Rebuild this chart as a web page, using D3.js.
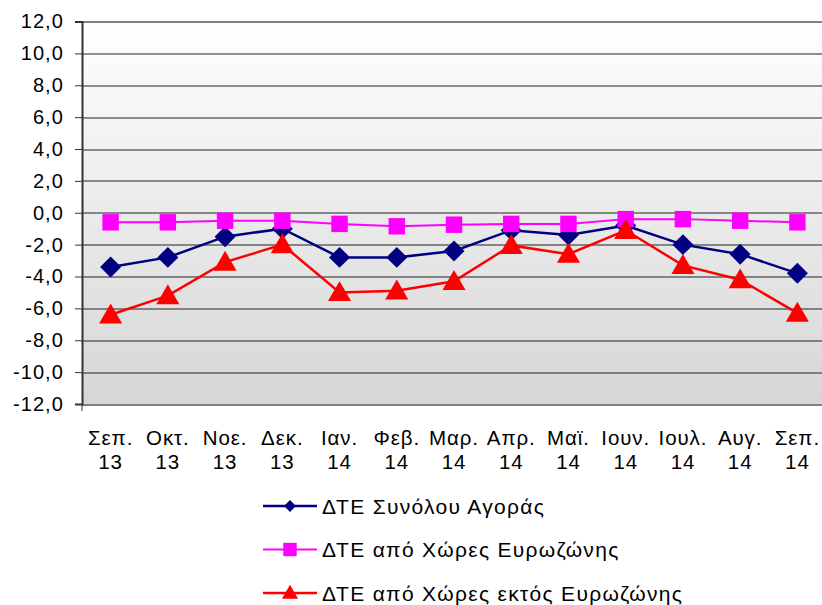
<!DOCTYPE html>
<html>
<head>
<meta charset="utf-8">
<script src="https://cdn.jsdelivr.net/npm/d3@7"></script>
<style>
  body { margin: 0; background: #fff; }
  svg { display: block; font-family: "Liberation Sans", Arial, sans-serif; }
</style>
</head>
<body>
<div class="chart"></div>
<script>
// month labels (two lines each)
var months = ["Σεπ.", "Οκτ.", "Νοε.", "Δεκ.", "Ιαν.", "Φεβ.", "Μαρ.", "Απρ.", "Μαϊ.", "Ιουν.", "Ιουλ.", "Αυγ.", "Σεπ."];
var years = ["13", "13", "13", "13", "14", "14", "14", "14", "14", "14", "14", "14", "14"];

// series values
var totalMarket = [-3.4, -2.8, -1.5, -1.0, -2.8, -2.8, -2.4, -1.1, -1.4, -0.8, -2.0, -2.6, -3.8];
var euroArea = [-0.6, -0.6, -0.5, -0.5, -0.7, -0.85, -0.75, -0.7, -0.7, -0.4, -0.4, -0.5, -0.6];
var nonEuroArea = [-6.4, -5.2, -3.1, -2.0, -5.0, -4.9, -4.3, -2.05, -2.6, -1.1, -3.3, -4.2, -6.3];

var seriesNames = ["ΔΤΕ Συνόλου Αγοράς", "ΔΤΕ από Χώρες Ευρωζώνης", "ΔΤΕ από Χώρες εκτός Ευρωζώνης"];
var yTicks = [12, 10, 8, 6, 4, 2, 0, -2, -4, -6, -8, -10, -12];

// rotated square for the Excel-like diamond marker
var diamond = {
  draw: function(context, size) {
    var r = Math.sqrt(size / 2);
    context.moveTo(0, -r);
    context.lineTo(r, 0);
    context.lineTo(0, r);
    context.lineTo(-r, 0);
    context.closePath();
  }
};

var series = [
  { name: seriesNames[0], values: totalMarket, color: "#000080", symbol: diamond, size: 220, legendSize: 70, width: 2.5, dy: 0 },
  { name: seriesNames[1], values: euroArea, color: "#ff00ff", symbol: d3.symbolSquare, size: 270, legendSize: 180, width: 2, dy: 0 },
  { name: seriesNames[2], values: nonEuroArea, color: "#ff0000", symbol: d3.symbolTriangle, size: 230, legendSize: 113, width: 2.5, dy: 2 }
];

var svgWidth = 822, svgHeight = 605;
var margin = { top: 21.5, left: 82, right: -4, bottom: 201 };
var width = svgWidth - margin.left - margin.right;
var height = svgHeight - margin.top - margin.bottom;

var svg = d3.select(".chart").append("svg")
  .attr("width", svgWidth)
  .attr("height", svgHeight);

var defs = svg.append("defs");
var grad = defs.append("linearGradient")
  .attr("id", "bg")
  .attr("x1", 0).attr("y1", 0).attr("x2", 0).attr("y2", 1);
grad.append("stop").attr("offset", "0%").attr("stop-color", "#ffffff");
grad.append("stop").attr("offset", "100%").attr("stop-color", "#d6d6d6");

var chartGroup = svg.append("g")
  .attr("transform", `translate(${margin.left}, ${margin.top})`);

// scales
var xScale = d3.scaleBand()
  .domain(d3.range(months.length))
  .range([0, width]);

var yScale = d3.scaleLinear()
  .domain([-12, 12])
  .range([height, 0]);

// plot background
chartGroup.append("rect")
  .attr("width", width)
  .attr("height", height)
  .attr("fill", "url(#bg)");

// gridlines
chartGroup.selectAll(".grid")
  .data(yTicks)
  .enter()
  .append("line")
  .attr("x1", 0)
  .attr("x2", width)
  .attr("y1", d => Math.round(yScale(d)) + 0.5)
  .attr("y2", d => Math.round(yScale(d)) + 0.5)
  .attr("stroke", d => (d == 12 || d == -12) ? "#808080" : "#222")
  .attr("stroke-width", d => (d == 12 || d == -12) ? 2 : 1);

// y axis
var yAxis = d3.axisLeft(yScale)
  .tickValues(yTicks)
  .tickSize(7)
  .tickFormat(d => d3.format(".1f")(d).replace(".", ",").replace("−", "-"));

var yG = chartGroup.append("g").call(yAxis);
yG.attr("font-family", null).attr("font-size", null);
yG.select(".domain").attr("stroke", "#333").attr("stroke-width", 2);
yG.selectAll(".tick line").attr("stroke", "#333");
yG.selectAll(".tick text")
  .attr("font-size", 20)
  .attr("letter-spacing", 1.1)
  .attr("fill", "#000")
  .attr("x", -18);

// small tick below axis bottom
chartGroup.append("line")
  .attr("x1", 0).attr("x2", 0)
  .attr("y1", height).attr("y2", height + 7)
  .attr("stroke", "#333");

// x labels
var xLabels = chartGroup.selectAll(".xlab")
  .data(months)
  .enter()
  .append("text")
  .attr("text-anchor", "middle")
  .attr("font-size", 20.5)
  .attr("letter-spacing", 0.9)
  .attr("fill", "#000")
  .attr("transform", (d, i) => `translate(${xScale(i) + xScale.bandwidth() / 2}, ${height + 41})`);
xLabels.append("tspan").attr("x", 0).attr("y", 0).text(d => d);
xLabels.append("tspan").attr("x", 0).attr("y", 24).text((d, i) => years[i]);

// lines and markers
var line = d3.line()
  .x((d, i) => xScale(i) + xScale.bandwidth() / 2)
  .y(d => yScale(d));

series.forEach(function(s) {
  chartGroup.append("path")
    .datum(s.values)
    .attr("d", line)
    .attr("fill", "none")
    .attr("stroke", s.color)
    .attr("stroke-width", s.width);

  chartGroup.selectAll(null)
    .data(s.values)
    .enter()
    .append("path")
    .attr("d", d3.symbol().type(s.symbol).size(s.size))
    .attr("transform", (d, i) => `translate(${xScale(i) + xScale.bandwidth() / 2}, ${yScale(d) + s.dy})`)
    .attr("fill", s.color);
});

// legend
var legend = svg.selectAll(".legend")
  .data(series)
  .enter()
  .append("g")
  .attr("transform", (d, i) => `translate(263, ${506 + i * 43.5})`);

legend.append("line")
  .attr("x1", 0).attr("x2", 54)
  .attr("y1", 0).attr("y2", 0)
  .attr("stroke", d => d.color)
  .attr("stroke-width", d => d.width);

legend.append("path")
  .attr("d", d => d3.symbol().type(d.symbol).size(d.legendSize)())
  .attr("transform", d => `translate(27, ${d.dy / 2})`)
  .attr("fill", d => d.color);

legend.append("text")
  .attr("x", 59)
  .attr("y", 7.5)
  .attr("font-size", 21)
  .attr("letter-spacing", 1.3)
  .attr("fill", "#000")
  .text(d => d.name);
</script>
</body>
</html>
